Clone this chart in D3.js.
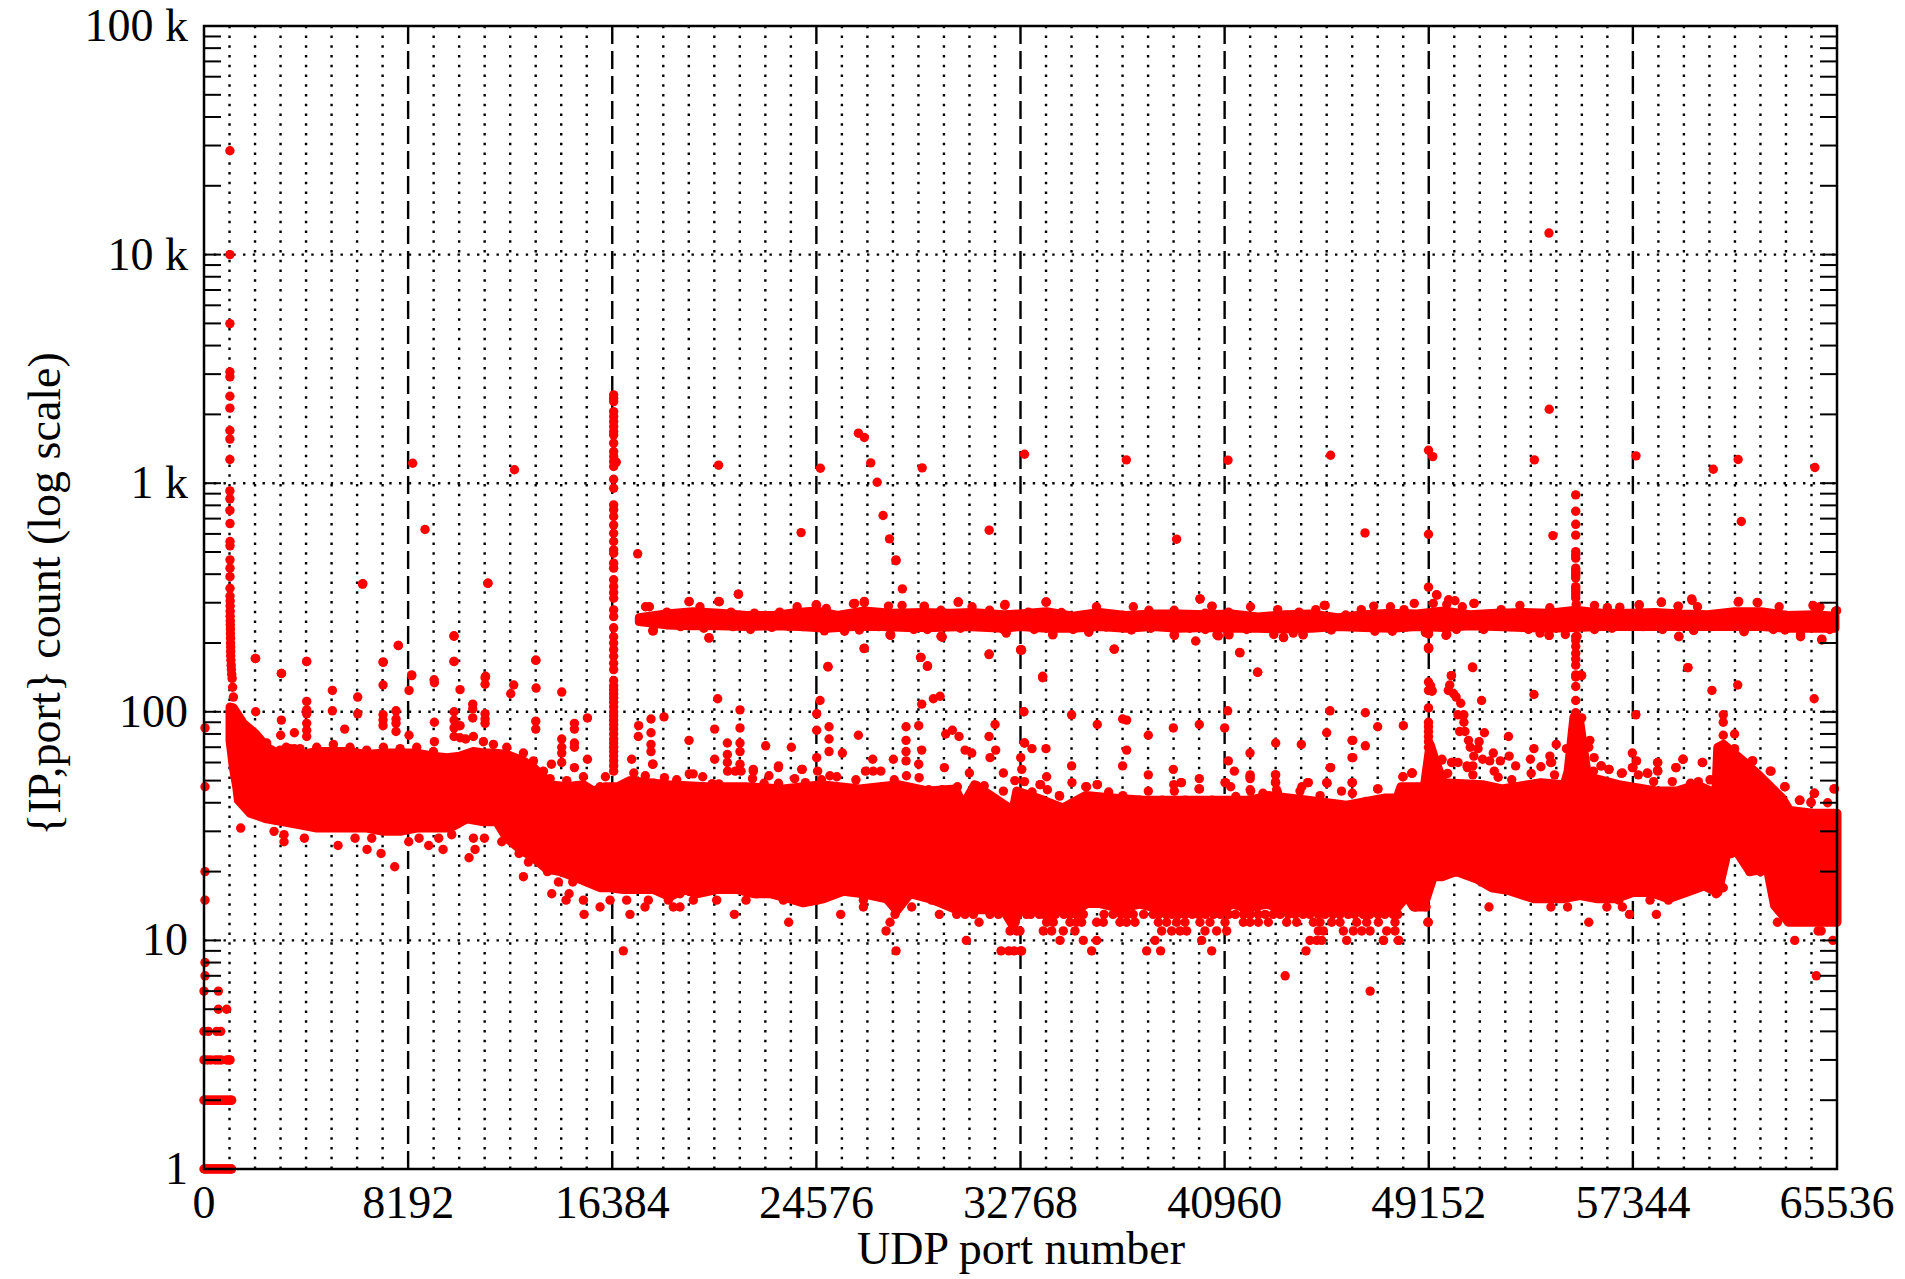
<!DOCTYPE html>
<html>
<head>
<meta charset="utf-8">
<script src="https://cdn.jsdelivr.net/npm/d3@7"></script>
<style>
  html, body { margin: 0; background: #fff; }
  text { font-family: "Liberation Serif", serif; font-size: 46px; fill: #000; }
</style>
</head>
<body>
<svg id="chart" width="1905" height="1279"></svg>
<script>
// tick values
const portTicks = [0, 8192, 16384, 24576, 32768, 40960, 49152, 57344, 65536];
const countTicks = [1, 10, 100, 1000, 10000, 100000];
const countLabels = ["1", "10", "100", "1 k", "10 k", "100 k"];

// main dense band, solid core outline as [port, count]
const bandTop = [[1045,105],[1178,104],[1580,89],[2074,80],[2516,70],[3050,65],[3450,65],[3854,65],[4523,67],[5192,67],[5861,67],[6530,65],[7200,66],[7868,66],[8537,66],[9206,64],[9740,63],[10276,64],[10812,67],[11213,66],[11614,66],[12150,65],[12819,61],[13220,57],[13620,52],[13890,48],[14558,47],[15227,48],[15628,45],[16100,47],[16600,47],
  [17095,50],[18632,48],[20169,47],[21706,47],[23243,46],[24780,48],[26317,46],[27854,48],[29084,45],[30159,46],[30466,39],[30928,48],[32465,37],[32619,45],[33695,41],[34466,38],[35385,43],[36461,42],[37705,41],[39228,41],[40610,41],
  [41173,41],[41953,41],[42733,43],[44293,41],[45853,39],[47413,42],[47881,42],[48037,47],[48973,47],[49207,72],[49441,60],[49753,49],[51313,48],[52093,46],[53653,49],[54589,48],[54745,55],[54979,95],[55213,90],[55525,52],[56773,48],[58333,45],[59113,45],[59893,48],[60673,44],[60751,70],[60985,72],[61921,59],[62389,53],[63325,42],[63637,37],[64573,36],[65536,36]];
const bandBottom = [[1045,75],[1178,57],[1312,47],[1380,41],[1850,36],[2516,34],[3185,33],[3854,32],[4523,31],[5192,31],[5861,31],[6530,31],[7200,30],[7868,30],[8537,31],[9206,31],[9875,31],[10544,34],[11213,33],[11748,33],[12150,28],[12685,25],[13220,23],[13755,20.5],[14290,20],[14826,19],[15360,18],[15896,17],
  [16293,17],[16828,16.7],[17363,16.7],[18032,16.7],[18700,15.5],[19237,16.7],[19772,16],[20575,16.7],[21377,16.7],[22046,16],[22715,16],[23518,15.2],[24053,14.6],[24856,15.2],[25659,16.4],[26462,16],[27398,15.2],[27800,13.5],[28335,16],[29137,15.2],[29539,14.6],[30208,13.6],[30743,13.6],[31546,13.6],[32081,13.6],[32482,11.5],
  [32746,14],[33147,13.8],[33816,13.8],[34485,13.8],[35154,13.8],[35422,14.5],[35957,14.5],[36760,13.8],[37563,14.4],[38232,13.8],[39035,13.8],[39704,13.8],[40239,13.8],[40908,13.8],[41309,14.4],[41844,13.8],[42647,14.4],[43182,13.8],[43851,13.8],[44520,13.8],[45189,13.8],[45992,13.8],[46661,13.8],[47330,13.8],[47866,13.8],[48267,15.6],[48534,14],[48936,14],[49337,19],
  [49682,19],[50250,20],[51102,18.5],[51670,17],[52380,16.5],[53374,15.2],[54510,15.2],[55220,15.7],[55930,15.2],[56640,15.2],[57350,16.2],[58060,16.2],[58770,15.2],[59480,16.2],[60190,17.3],[60758,16.2],[61042,22],[61255,28],[61610,23.5],[62036,20],[62746,20.5],[63030,14.2],[63598,12],[64308,12],[65018,12],[65536,12]];

// the narrow band near 250, from port 17500 up
const ridgeTop = [[17470,258],[18545,268],[19620,274],[20695,270],[21770,264],[22845,264],[23812,272],[24565,276],[25425,264],[26500,276],[27575,270],[28865,272],[29940,270],[30800,272],[32090,266],[32746,268],[33808,274],[34870,262],[35932,272],[36994,264],[38056,268],[39118,268],[40180,266],[41242,268],[42304,260],[43366,266],[44428,268],[45490,258],[46552,266],[47614,270],[48676,268],[49738,276],[50800,266],[51862,270],[52924,272],[53986,270],[55048,278],[56110,270],[57172,270],[58234,272],[59296,268],[60358,266],[61420,274],[62482,274],[63544,264],[64606,266],[65456,262]];
const ridgeBottom = [[17470,248],[18545,240],[19620,238],[20695,238],[21770,236],[22845,238],[23922,236],[24995,232],[26070,236],[27145,236],[28220,234],[29295,234],[30585,236],[32090,232],[32746,236],[33808,232],[34870,232],[35932,236],[36994,232],[38056,236],[39118,232],[40180,234],[41242,232],[42304,232],[43366,230],[44428,232],[45490,236],[46552,234],[47614,232],[48676,236],[49738,234],[50800,238],[51862,236],[52924,234],[53986,232],[55048,234],[56110,236],[57172,236],[58234,236],[59296,236],[60358,236],[61420,236],[62482,236],[63544,232],[64606,232],[65456,232]];
const ridgeUpperDots = [[17719,288],[17875,288],[18577,273],[19466,303],[19903,288],[20683,303],[21151,273],[22087,270],[23101,273],[23803,288],[24583,293],[24973,283],[26065,297],[26502,300],[26954,270],[27469,290],[28015,292],[28904,290],[29575,278],[30277,302],[30823,288],[31525,278],[32149,295],[33085,273],[33787,302],[34411,272],[35815,288],[37297,288],[37921,278],[38935,278],[40448,290],[39980,312],[40183,270],[41119,273],
  [42000,288],[43090,280],[43948,273],[44619,280],[44993,292],[45820,265],[46444,280],[46943,290],[47614,288],[48160,280],[49330,298],[49876,295],[50500,288],[50968,298],[52060,280],[52809,292],[54010,285],[55070,295],[55804,292],[56319,286],[56818,287],[57598,293],[58487,302],[59158,290],[59704,312],[59938,288],[61576,302],[62356,300],[63214,288],[64571,292],[64852,288],[65476,275]];
const ridgeLowerDots = [[18031,228],[19123,236],[20059,232],[21229,236],[21931,229],[22789,234],[23491,236],[24037,236],[24895,226],[25706,225],[26299,228],[27079,236],[27547,219],[28483,229],[29029,229],[29575,214],[30355,232],[32071,229],[32196,221],[33319,229],[34068,219],[34879,229],[35503,225],[36205,235],[37219,228],[37999,232],[38935,217],[39559,232],[40651,217],[41119,219],[40183,229],
  [41842,229],[42934,218],[43324,212],[43714,221],[44104,218],[45243,228],[46132,236],[46990,225],[47692,225],[48238,235],[49018,222],[49876,218],[50266,229],[51358,229],[52450,236],[53152,229],[53620,221],[53979,216],[54634,218],[55102,214],[55804,229],[56506,232],[57754,236],[58534,229],[59189,214],[59782,228],[60484,236],[61810,225],[62980,229],[63448,228],[64072,218],[64930,208],[65242,229]];

// columns of points: one port, many counts
const spikeLowPorts = [1040,1040,1040,1040,1040,1040,1040,1040,1040,1040,1040,1040,1040,1044,1044,1044,1044,1044,1044,1044,1044,1050,1050,1050,1050,1055,1055,1060,1060,1065,1065,1070,1071,1071,1080,1090,1100,1111,1130,1150,1178];
const spikeLowCounts = [28450,10000,4990,3070,2920,2400,2130,1700,1560,1270,925,854,760,666,556,532,462,425,390,347,321,305,290,275,262,250,240,230,220,210,200,192,184,176,168,160,153,146,140,128,116];
const spikeMidCounts = [2435,2355,2275,2057,1957,1860,1770,1683,1627,1497,1376,1307,1244,1183,1041,951,804,765,715,656,604,556,511,494,447,425,378,353,332,314,279,261,233,213,200,187,175,163,153,137,130,125,120,115,110,105,100,96,92,88,84,80,76,73,70,67,64,61,58,55];
const spikeHighCounts = [889,754,661,593,502,485,470,425,415,405,395,385,353,345,335,325,315,213,205,193,180,170,160,145,142,129,112,99,95,91,87,84,81,78,75,72,69,66,63,60,57,54,52];
const spikeEdgeCounts = [351,221,189,135,124,104,90,86,82,78,74,70];

// low count rows beside the zero port
const rowCount1 = [0,60,120,180,240,300,360,420,480,540,600,660,720,780,840,900,960,1020,1080,1110];
const rowCount2 = [0,60,120,180,240,300,360,420,480,540,600,660,720,780,840,900,960,1020,1080,1110];
const rowCount3 = [0,135,270,450,570,690,910,1000,1045];
const rowCount4 = [0,175,510,670];
const rowCount5 = [576,910];
const rowCount6 = [0,576];
const portZeroCounts = [85,47,20,15,8,7];

// the discrete rows under the band
const rowCount16 = [19103,22180,24990,28870];
const rowCount15 = [16962,17832,18635,19638,20575,21752,23251,24187,24589,26462,27465,27934,29205,29673];
const rowCount13 = [30208,30543,30877,31546,31880,32282,33010,33180,33520,33690,33960,34170,34510,34740,35010,35290,36120,36480,36810,37060,37290,37710,38090,38320,38610,38840,39120,39380,39660,39910,40190,40520,40790,41120,41390,41720,41990,42310,42590,42910,43190,43520,43790,44110,44380,44720,44990,45310,45590,45920,46180,46520,46790,47120,47390,47720,47910];
const rowCount12 = [33816,34084,34753,35021,35221,35823,36091,36760,37028,37362,38299,38633,39035,39369,39971,40373,40975,41711,41978,42313,42714,43450,43851,44520,44788,45256,45591,46260,46661,47129,47798,49136];
const rowCount11 = [32746,33683,34017,34485,34954,38433,38834,39168,39436,40172,40640,41042,44721,44922,45725,46126,46461,46795,47464,47798];
const rowCount10 = [34352,35288,35823,38165,40038,44387,44654,44855,45858,47330,47932];
const rowCount9 = [16828,27773,31988,32510,32777,32300,32813,35623,37830,38392,40440,44226];

// single points as [port, count]
const pointsLeft = [[6356,362],[11400,365],[2074,171],[4122,166],[3105,147],[5152,124],[6169,116],[7186,165],[7186,131],[7801,195],[8229,124],[8336,144],[9246,134],[10036,214],[10036,166],[10276,125],[11280,141],[11280,132],[12310,120],[12430,131],[13314,168],[13327,127],[14357,122],[15388,94],[2074,100],[5152,101],[6169,98],[4122,111],[4122,102],[4122,98],[3105,92],[4122,89],[4122,83],[4122,78],[7186,97],[7186,92],[7186,87],[7707,101],[7707,93],[7707,89],[7707,82],[5647,84],[8229,79],[9246,90],[9246,74],[3627,81],[3078,79],[10036,100],[10036,92],[10036,85],[10036,78],[10276,87],[10785,108],[10785,103],[10785,94],[11280,98],[11280,93],[11280,89],[13314,91],[13314,84],[14866,89],[14866,84],[14866,73],[14866,70],[14357,76],[14357,70],[14357,66],[14357,60],[15388,62],[13943,59],[14866,57],[16110,52],[16545,1236],
  [4523,70],[5192,72],[5861,70],[6530,68],[7200,70],[7868,69],[8537,70],[9206,67],[10276,77],[10500,76],[10812,78],[11213,74],[11614,72],[12150,70],[12819,66],[2516,73],[3050,68],[3300,70],[3450,69],[3627,69],[3854,69],[13220,61],[13620,55],[13890,51],[14558,50],[15227,52],[15896,47],
  [1472,31],[2810,30],[3212,29],[3212,27],[4028,28],[5380,26],[6062,28],[6543,25],[6731,28],[7105,24],[7654,21],[8216,27],[8631,28],[9019,26],[9594,25],[9420,28],[9942,29],[10637,23],[10878,25],[10812,28],[11253,28],[12819,19],[13019,22],[13956,16],[14224,18],[14531,15],[14652,16],[14799,18],[15227,15],[15254,13],[15896,14],[16297,15],[13782,20],[12645,24],[11949,27]];
const pointsMiddle = [[27773,458],[28027,345],[21444,327],[32897,100],[20615,114],[21511,102],[24589,98],[24722,112],[28804,108],[29271,114],[29539,117],[18461,95],[17939,93],[17444,87],[17430,78],[17939,81],[17939,72],[17939,67],[17163,62],[18006,59],[19464,75],[20494,84],[20494,62],[21003,73],[21003,65],[21003,60],[21511,85],[21511,73],[21511,67],[21511,59],[22541,71],[23572,70],[24589,83],[24589,63],[25084,86],[25084,76],[25084,67],[26261,79],[25619,66],[26837,62],[27666,62],[28174,86],[28174,75],[28174,67],[28174,61],[28683,87],[28804,68],[28683,59],[29767,80],[30034,83],[30302,78],[30543,68],[30811,66],[29713,57],[31747,88],[31506,78],[31773,68],[31546,63],[30716,54],[32777,63],[32924,73],[32081,54],[23987,56],[23050,57],[22046,55],
  [17249,54],[17710,52.5],[18017,59],[18048,48.7],[18478,51.5],[18970,50.4],[19477,53.5],[19631,53.5],[20015,52],[20400,48.5],[20661,48.4],[21014,55],[21322,55],[21552,55],[22044,56],[22013,51],[22674,52.5],[22475,48.7],[23058,58],[23058,48.7],[23704,51],[24011,56],[24134,49],[24626,55],[24780,50.4],[25118,52.5],[25395,52],[26163,50.4],[26548,55],[26855,55],[27162,55],[27239,47],[27700,50.4],[28192,52.5],[28699,51.5],[29084,45.6],[29622,45.6],[30236,47],[31004,47.5],[31312,47.5],[32081,45],[32542,50],[32819,56],[32926,49.5],
  [18032,226],[20267,210],[26488,189],[28776,173],[29031,158],[25044,157],[27559,216],[31506,178],[32777,186],[29619,212],
  [17096,13],[17698,14],[18835,14],[19103,14],[21284,13],[23465,12],[25552,13],[26462,14],[27372,11],[27532,12],[27733,13],[28402,14],[30596,10],[29512,13],[31104,12],[32349,11],[32617,11],[32550,12]];
const pointsRight = [[33656,141],[32813,186],[36533,188],[41577,181],[42286,149],[49150,189],[49283,123],[32906,100],[34820,97],[35850,88],[36867,93],[37028,92],[37897,79],[38901,85],[39944,88],[40961,85],[41082,101],[45189,101],[46608,99],[47103,86],[48133,87],[45056,81],[46072,75],[46608,71],[43009,73],[44039,72],[41978,66],[32933,73],[33228,69],[33790,69],[37028,68],[34820,58],[36867,58],[38901,56],[37897,53],[33816,52],[34833,49],[39944,51],[41108,61],[41350,55],[41978,52],[43009,53],[43009,49],[45216,57],[46072,63],[46072,49],[47115,46],[42005,45],[45056,49],[44320,49],[43985,45],[35422,47],[35850,48],[34325,43],[33549,48],[37897,45],[38941,45],[39209,49],[39931,46],[40975,49],[48494,54],
  [33233,44.6],[33572,48],[33848,45.6],[34340,42.8],[35385,47],[35846,48],[36307,44.6],[36876,43],[37537,41],[38459,41],[38920,48],[39228,49],[39382,41],[39951,46],[40458,41],[40996,49],[41407,42.6],[41953,41.2],[42499,44],[43045,45.6],[43591,41.5],[44059,47],[44293,49],[44792,43],[45073,48.7],[45650,45],[46087,44],[46633,40.5],[47101,46],[47647,41.5],[48115,52],[48474,53.8],
  [49675,61.5],[50065,60],[50330,60],[49909,53.8],[50689,58],[50923,58],[50923,53],[51781,55],[51937,51.7],[52639,58],[52483,50.4],[53263,53.8],[53653,57.5],[54043,60],[54199,53],[54745,48.7],[55291,60.7],[55759,55],[56071,58],[56383,56],[56882,53.8],[57350,57],[57943,53.8],[58177,49.5],[58926,49.5],[59659,48.7],[59971,49.5],[60439,50.4],[62155,61],[62857,55],[63434,47],[64027,41],[64495,40.3],[64620,44],[65431,46],[58333,60],[58333,55.5],[59066,57],[59347,62],[60127,60],[45198,57],[41984,53],[41984,51],[41984,45.6],[42998,53],[42998,49],[43076,44.6],[46087,49],[41204,47],
  [49483,324],[49228,130],[49284,124],[50065,144],[49994,131],[49938,124],[50151,120],[50250,116],[50435,109],[50917,156],[51272,112],[50321,97],[50562,97],[50562,90],[50392,82],[50605,82],[51386,81],[50747,75],[51173,74],[50818,70],[51130,69],[50960,64],[51741,66],[51315,62],[51599,61],[52025,61],[52380,64],[52352,78],[53374,119],[53374,69],[54269,72],[54680,69],[54013,64],[54084,60],[53232,62],[50108,60],[50704,57],[49682,62],[46104,75],[46104,63],[48120,52],[48475,54],
  [55291,144],[55291,94],[55618,75],[55575,70],[55788,63],[56072,58],[56384,56],[56924,54],[57464,97],[57322,66],[57492,61],[57322,57],[57563,53],[58344,60],[58344,55],[57918,54],[59082,57],[59366,62],[60147,60],[60517,124],[59551,156],[61553,131],[64620,114],[60971,97],[60971,90],[60971,79],[61425,80],[61425,69],[62135,61],[62888,55],[63456,47],[64052,41],[64493,40],[64635,44],[65416,46],[65160,40],
  [49114,12],[51570,14],[54056,14],[54723,14],[55575,12],[57208,13],[58287,13],[58032,15],[56782,15],[56299,14],[56924,14],[63144,12],[63840,10],[64777,11],[64900,11],[65373,10],[64706,7],[46800,6],[47950,10],[47339,10],[43390,7],[61298,24],[61851,22],[62036,20],[62462,20],[60687,16],[60971,17],[58770,15],[48617,14],[49043,14]];
const pointsHigh = [[8375,1223],[12460,1145],[20652,1199],[24737,1163],[26263,1655],[26500,1584],[26758,1227],[28822,1167],[27016,1010],[32929,1339],[8870,627],[23963,608],[31510,623],[27253,722],[27510,571],[27769,462],[6376,363],[11386,365],[17405,491],[37015,1265],[41093,1261],[45214,1325],[49143,1394],[49313,1307],[53391,1265],[53986,2107],[53977,12424],[57470,1317],[60570,1151],[61568,1269],[64648,1171],[39033,569],[46594,606],[49143,598],[54135,590],[61696,680]];
const pointsRidge = [[21448,327],[19470,304],[20652,304],[24565,294],[30262,302],[26500,304],[26113,298],[32133,292],[28908,289],[20265,211],[18008,226],[27532,217],[29618,213],[26500,190],[28757,173],[29037,159],[31510,179],[32778,187],[25038,158],[10031,215],[7795,195],[2055,171],[4118,166],[7193,165],[10031,166],[13320,168],[3108,147],[8333,145],[11300,143],[9235,138],
  [33808,302],[39968,312],[40456,289],[44959,292],[48570,298],[49462,325],[49950,309],[50205,306],[50970,298],[57597,294],[58488,301],[59168,289],[59720,307],[61589,304],[62333,301],[64606,289],[64818,284],[65520,277],[34063,217],[35507,223],[38948,216],[39797,204],[40711,215],[41136,217],[43324,211],[44109,217],[49143,219],[49844,216],[53986,216],[59190,213],[59784,227],[64074,213],[64925,206],[61802,224],[32788,187],[36526,188],[41561,182],[49143,191],[42283,149],[50906,157],[59551,156],[50057,144],[33659,143],[55260,145]];

const svg = d3.select("#chart");
const margin = { top: 26, right: 1837, bottom: 1169, left: 204 };

const x = d3.scaleLinear().domain([0, 65536]).range([margin.left, margin.right]);
const y = d3.scaleLog().domain([1, 100000]).range([margin.bottom, margin.top]);

//dotted grid every 1024 ports, dashed at the labelled ports
const minorPorts = d3.range(1024, 65536, 1024).filter(p => p % 8192 !== 0);
svg.append("g").selectAll("line").data(minorPorts).enter().append("line")
  .attr("x1", d => x(d)).attr("x2", d => x(d))
  .attr("y1", margin.bottom).attr("y2", margin.top)
  .attr("stroke", "#000").attr("stroke-width", 2.4).attr("stroke-dasharray", "2.4 7.35");
svg.append("g").selectAll("line").data(countTicks.slice(1, -1)).enter().append("line")
  .attr("x1", margin.left).attr("x2", margin.right)
  .attr("y1", d => y(d)).attr("y2", d => y(d))
  .attr("stroke", "#000").attr("stroke-width", 2.4).attr("stroke-dasharray", "2.4 7.35");
svg.append("g").selectAll("line").data(portTicks.slice(1, -1)).enter().append("line")
  .attr("x1", d => x(d)).attr("x2", d => x(d))
  .attr("y1", margin.bottom).attr("y2", margin.top)
  .attr("stroke", "#000").attr("stroke-width", 2.4).attr("stroke-dasharray", "18 7");

//solid areas for the dense parts, stroked to the width of a dot
const outline = d3.line().x(d => x(d[0])).y(d => y(d[1])).curve(d3.curveLinearClosed);
const drawBand = (top, bottom) => svg.append("path")
  .attr("d", outline(top.concat(bottom.slice().reverse())))
  .attr("fill", "#f00").attr("stroke", "#f00")
  .attr("stroke-width", 9).attr("stroke-linejoin", "round");
drawBand(bandTop, bandBottom);
drawBand(ridgeTop, ridgeBottom);

//all the separate dots
const column = (port, counts) => counts.map(c => [port, c]);
const row = (count, ports) => ports.map(p => [p, count]);
const dots = [].concat(
  spikeLowPorts.map((p, i) => [p, spikeLowCounts[i]]),
  column(16440, spikeMidCounts),
  column(55050, spikeHighCounts),
  column(49142, spikeEdgeCounts),
  column(40, portZeroCounts),
  row(1, rowCount1), row(2, rowCount2), row(3, rowCount3), row(4, rowCount4),
  row(5, rowCount5), row(6, rowCount6),
  row(16, rowCount16), row(15, rowCount15), row(13, rowCount13),
  row(12, rowCount12), row(11, rowCount11), row(10, rowCount10), row(9, rowCount9),
  pointsLeft, pointsMiddle, pointsRight, pointsHigh, pointsRidge, ridgeUpperDots, ridgeLowerDots
);
svg.append("g").selectAll("circle").data(dots).enter().append("circle")
  .attr("cx", d => x(d[0])).attr("cy", d => y(d[1])).attr("r", 4.7).attr("fill", "#f00");

//frame and the log ticks on both sides
const logTicks = d3.range(0, 5).flatMap(e => d3.range(2, 10).map(m => m * Math.pow(10, e)));
const tickRows = logTicks.concat(countTicks.slice(1, -1));
svg.append("g").selectAll("line").data(tickRows).enter().append("line")
  .attr("x1", margin.left).attr("x2", margin.left + 17)
  .attr("y1", d => y(d)).attr("y2", d => y(d))
  .attr("stroke", "#000").attr("stroke-width", 2);
svg.append("g").selectAll("line").data(tickRows).enter().append("line")
  .attr("x1", margin.right - 17).attr("x2", margin.right)
  .attr("y1", d => y(d)).attr("y2", d => y(d))
  .attr("stroke", "#000").attr("stroke-width", 2);
svg.append("rect")
  .attr("x", margin.left).attr("y", margin.top)
  .attr("width", margin.right - margin.left).attr("height", margin.bottom - margin.top)
  .attr("fill", "none").attr("stroke", "#000").attr("stroke-width", 2.5);

//labels
svg.append("g").selectAll("text").data(countTicks).enter().append("text")
  .attr("x", 188).attr("y", d => y(d) + 15).attr("text-anchor", "end")
  .text((d, i) => countLabels[i]);
svg.append("g").selectAll("text").data(portTicks).enter().append("text")
  .attr("x", d => x(d)).attr("y", 1218).attr("text-anchor", "middle")
  .text(d => d);
svg.append("text")
  .attr("x", 1021).attr("y", 1264).attr("text-anchor", "middle")
  .text("UDP port number");
svg.append("text")
  .attr("transform", "translate(60,594) rotate(-90)").attr("text-anchor", "middle")
  .text("{IP,port} count (log scale)");
</script>
</body>
</html>
